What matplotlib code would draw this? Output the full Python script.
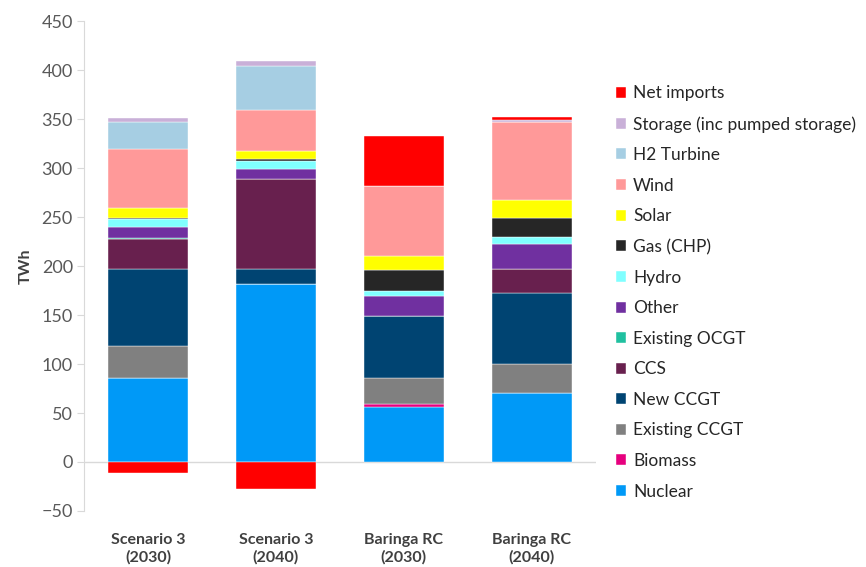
import matplotlib
matplotlib.use("Agg")
import matplotlib.pyplot as plt
import numpy as np

plt.rcParams['font.family'] = ['Lato', 'DejaVu Sans']

scenarios = ['Scenario 3\n(2030)', 'Scenario 3\n(2040)', 'Baringa RC\n(2030)', 'Baringa RC\n(2040)']

# generation by technology, TWh (stacking order bottom -> top)
nuclear = [86, 181.5, 56.5, 70]
biomass = [0, 0, 3, 0]
existing_ccgt = [32, 0, 26.5, 30.5]
new_ccgt = [79, 15.5, 63, 72]
ccs = [31, 91.5, 0, 24]
existing_ocgt = [0.5, 0.5, 0, 0]
other = [11, 10, 20.5, 26]
hydro = [9, 8.5, 5.5, 7]
gas_chp = [1, 1.5, 20.5, 20]
solar = [10, 8.5, 15, 18]
wind = [60, 42, 71, 80]
h2_turbine = [27, 45, 0, 0]
storage = [5, 4.5, 0, 1.5]
net_imports = [-11, -28, 51.5, 3.5]

series = [
    ('Nuclear', nuclear, '#0099f7'),
    ('Biomass', biomass, '#e6007e'),
    ('Existing CCGT', existing_ccgt, '#808080'),
    ('New CCGT', new_ccgt, '#004472'),
    ('CCS', ccs, '#68204e'),
    ('Existing OCGT', existing_ocgt, '#20c0a0'),
    ('Other', other, '#7030a0'),
    ('Hydro', hydro, '#80ffff'),
    ('Gas (CHP)', gas_chp, '#262626'),
    ('Solar', solar, '#ffff00'),
    ('Wind', wind, '#ff9999'),
    ('H2 Turbine', h2_turbine, '#a6cee3'),
    ('Storage (inc pumped storage)', storage, '#c9b0d8'),
    ('Net imports', net_imports, '#ff0000'),
]

fig = plt.figure(figsize=(8.66, 5.67), dpi=100)
ax = fig.add_axes([0.097, 0.0988, 0.591, 0.864])

x = np.arange(len(scenarios))
pos_base = np.zeros(len(scenarios))
neg_base = np.zeros(len(scenarios))
handles = []
for name, vals, col in series:
    v = np.array(vals, dtype=float)
    bottom = np.where(v >= 0, pos_base, neg_base)
    b = ax.bar(x, v, 0.625, bottom=bottom, color=col, label=name,
               edgecolor='white', linewidth=0.3)
    handles.append(b)
    pos_base += np.where(v >= 0, v, 0)
    neg_base += np.where(v < 0, v, 0)

ax.set_xlim(-0.5, 3.5)
ax.set_ylim(-50, 450)
ax.set_yticks(np.arange(-50, 451, 50))
ax.axhline(0, color='#d9d9d9', linewidth=1, zorder=0)

for s in ['top', 'right', 'bottom']:
    ax.spines[s].set_visible(False)
ax.spines['left'].set_color('#d9d9d9')
ax.tick_params(axis='y', colors='#d9d9d9', labelcolor='#595959', labelsize=13, length=5, pad=3)
ax.tick_params(axis='x', length=0, pad=6)
ax.set_xticks(x)
ax.set_xticklabels(scenarios, fontsize=11.5, fontweight='bold', color='#404040',
                   linespacing=1.25)
ax.xaxis.set_ticks_position('none')
# category labels sit below the -50 line
for lab in ax.get_xticklabels():
    lab.set_y(-0.028)

ax.set_ylabel('TWh', fontsize=11.5, fontweight='bold', color='#404040', labelpad=6)

leg = fig.legend(handles[::-1], [s[0] for s in series][::-1],
                 loc='upper left', bbox_to_anchor=(0.693, 0.877),
                 frameon=False, fontsize=12.5, handlelength=0.6, handleheight=0.6,
                 handletextpad=0.4, labelspacing=0.84)
for t in leg.get_texts():
    t.set_color('#262626')

fig.savefig('out.png', dpi=100)
